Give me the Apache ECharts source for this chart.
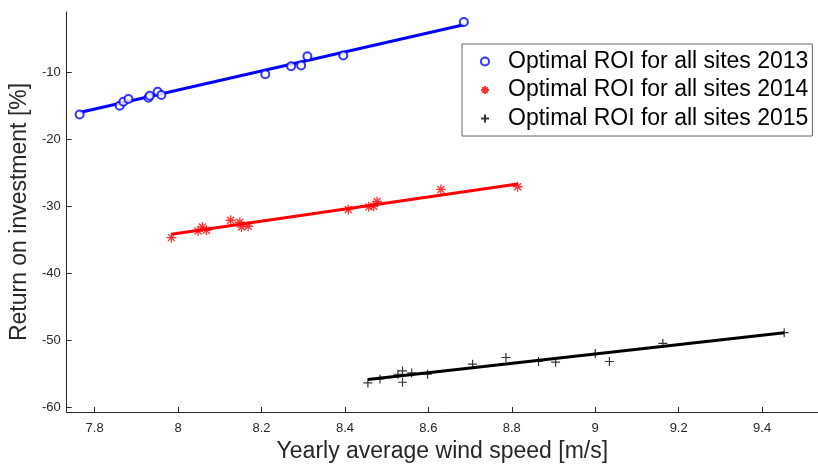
<!DOCTYPE html>
<html>
<head>
<meta charset="utf-8">
<script src="https://cdn.jsdelivr.net/npm/echarts@6/dist/echarts.min.js"></script>
<style>
  html, body { margin: 0; padding: 0; background: #fff; }
  #chart { width: 818px; height: 468px; }
</style>
</head>
<body>
<div id="chart"></div>
<script>
// tick labels
const xTicks = [7.8, 8, 8.2, 8.4, 8.6, 8.8, 9, 9.2, 9.4];
const yTicks = [-60, -50, -40, -30, -20, -10];

// 2013 sites: [wind speed, ROI]
const roi2013 = [
  [7.764, -16.3], [7.860, -15.0], [7.869, -14.4], [7.881, -14.0],
  [7.929, -13.8], [7.932, -13.5], [7.951, -12.9], [7.960, -13.4],
  [8.209, -10.3], [8.271, -9.1], [8.295, -9.0], [8.310, -7.6],
  [8.396, -7.5], [8.685, -2.5]
];
const fit2013 = [[7.764, -16.0], [8.685, -2.9]];

// 2014 sites
const roi2014 = [
  [7.984, -34.7], [8.048, -33.7], [8.058, -33.1], [8.068, -33.6],
  [8.126, -32.1], [8.148, -32.4], [8.152, -33.1], [8.168, -33.0],
  [8.408, -30.5], [8.457, -30.1], [8.469, -30.0], [8.477, -29.3],
  [8.630, -27.5], [8.814, -27.1]
];
const fit2014 = [[7.984, -34.2], [8.814, -26.7]];

// 2015 sites
const roi2015 = [
  [8.455, -56.4], [8.484, -55.8], [8.527, -55.1], [8.538, -54.6],
  [8.538, -56.3], [8.560, -54.9], [8.598, -55.1], [8.706, -53.6],
  [8.786, -52.6], [8.864, -53.2], [8.905, -53.3], [9.000, -52.0],
  [9.034, -53.2], [9.162, -50.5], [9.453, -48.9]
];
const fit2015 = [[8.455, -55.9], [9.453, -48.9]];

const names = [
  'Optimal ROI for all sites 2013',
  'Optimal ROI for all sites 2014',
  'Optimal ROI for all sites 2015'
];

const starPath = 'path://M0,5L10,5M5,0L5,10M1.5,1.5L8.5,8.5M1.5,8.5L8.5,1.5';
const plusPath = 'path://M0,5L10,5M5,0L5,10';
const font = 'Liberation Sans, Arial, Helvetica, sans-serif';

const chart = echarts.init(document.getElementById('chart'));

const option = {
  animation: false,
  textStyle: { fontFamily: font },
  grid: { left: 65, right: 0, top: 12, bottom: 50 },
  legend: {
    orient: 'vertical',
    left: 462,
    top: 44,
    padding: [6, 4, 6, 18],
    itemGap: 5.5,
    itemWidth: 36,
    itemHeight: 8,
    borderColor: '#666',
    borderWidth: 1,
    borderRadius: 0,
    backgroundColor: '#fff',
    textStyle: { fontSize: 23, color: '#000', lineHeight: 23, fontFamily: font },
    data: names
  },
  xAxis: {
    type: 'value',
    min: 7.733,
    max: 9.534,
    splitLine: { show: false },
    axisLine: { lineStyle: { color: '#262626', width: 1 } },
    axisTick: { inside: true, length: 5, customValues: xTicks, lineStyle: { color: '#262626' } },
    axisLabel: { customValues: xTicks, color: '#262626', fontSize: 13, margin: 10 },
    name: 'Yearly average wind speed [m/s]',
    nameLocation: 'middle',
    nameGap: 28,
    nameTextStyle: { fontSize: 23, color: '#262626' }
  },
  yAxis: {
    type: 'value',
    min: -60.74,
    max: -1,
    splitLine: { show: false },
    axisLine: { show: true, lineStyle: { color: '#262626', width: 1 } },
    axisTick: { show: true, inside: true, length: 5, customValues: yTicks, lineStyle: { color: '#262626' } },
    axisLabel: { customValues: yTicks, color: '#262626', fontSize: 13, margin: 6 },
    name: 'Return on investment [%]',
    nameLocation: 'middle',
    nameGap: 26,
    nameTextStyle: { fontSize: 23, color: '#262626' }
  },
  series: [
    {
      name: 'fit 2013', type: 'line', data: fit2013, symbol: 'none',
      lineStyle: { color: '#0000ff', width: 3 }, z: 2
    },
    {
      name: 'fit 2014', type: 'line', data: fit2014, symbol: 'none',
      lineStyle: { color: '#ff0000', width: 3 }, z: 2
    },
    {
      name: 'fit 2015', type: 'line', data: fit2015, symbol: 'none',
      lineStyle: { color: '#000000', width: 3 }, z: 2
    },
    {
      name: names[0], type: 'scatter', data: roi2013,
      symbol: 'emptyCircle', symbolSize: 8,
      itemStyle: { color: '#0000ff', borderColor: '#0000ff', borderWidth: 1 }, z: 3
    },
    {
      name: names[1], type: 'scatter', data: roi2014,
      symbol: starPath, symbolSize: 10,
      itemStyle: { color: 'rgba(0,0,0,0)', borderColor: '#ff0000', borderWidth: 1.3 }, z: 3
    },
    {
      name: names[2], type: 'scatter', data: roi2015,
      symbol: plusPath, symbolSize: 9,
      itemStyle: { color: 'rgba(0,0,0,0)', borderColor: '#000000', borderWidth: 1.2 }, z: 3
    }
  ]
};

chart.setOption(option);
</script>
</body>
</html>
